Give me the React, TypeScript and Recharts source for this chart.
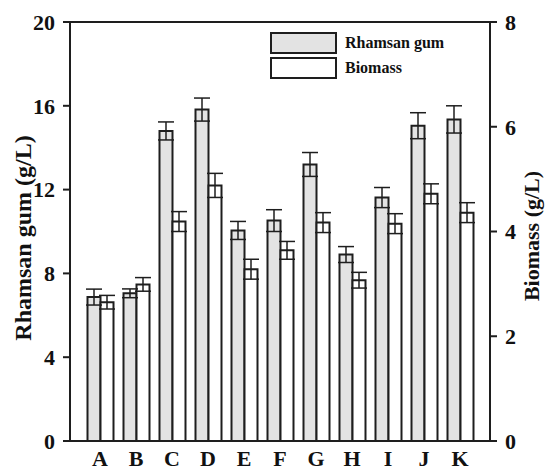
import React from "react";
import { BarChart, Bar, XAxis, YAxis, ErrorBar, ReferenceLine } from "recharts";

const categories = ["A", "B", "C", "D", "E", "F", "G", "H", "I", "J", "K"];
const gumValues = [6.87, 7.05, 14.8, 15.82, 10.05, 10.52, 13.2, 8.9, 11.62, 15.05, 15.35];
const gumErrors = [0.38, 0.21, 0.43, 0.55, 0.43, 0.52, 0.57, 0.38, 0.48, 0.62, 0.65];
const biomassValues = [2.65, 2.99, 4.19, 4.88, 3.28, 3.64, 4.17, 3.07, 4.15, 4.72, 4.36];
const biomassErrors = [0.13, 0.13, 0.19, 0.23, 0.19, 0.17, 0.19, 0.15, 0.19, 0.19, 0.19];
const leftTicks = [0, 4, 8, 12, 16, 20];
const rightTicks = [0, 2, 4, 6, 8];

const data = categories.map((c, i) => ({
  name: c,
  gum: gumValues[i],
  gumErr: gumErrors[i],
  biomass: biomassValues[i],
  biomassErr: biomassErrors[i],
}));

const FONT = "'Liberation Serif', 'Times New Roman', serif";
const INK = "#1e1e1e";
const GUM_FILL = "#e3e3e3";

const tickStyle = { fill: "#111", fontSize: 22, fontWeight: 700, fontFamily: FONT };

const LegendBox = () => (
  <div
    style={{
      position: "absolute",
      left: 270,
      top: 31,
      fontFamily: FONT,
      fontWeight: 700,
      fontSize: 16,
      color: "#111",
      pointerEvents: "none",
    }}
  >
    {[
      { label: "Rhamsan gum", fill: GUM_FILL },
      { label: "Biomass", fill: "#fff" },
    ].map((it, i) => (
      <div key={i} style={{ display: "flex", alignItems: "center", height: 24, marginBottom: 1 }}>
        <div
          style={{
            width: 63,
            height: 18,
            background: it.fill,
            border: `2px solid ${INK}`,
            marginRight: 8,
            boxSizing: "content-box",
          }}
        />
        <span>{it.label}</span>
      </div>
    ))}
  </div>
);

const AxisTitle = ({ x, y, text, size }: { x: number; y: number; text: string; size: number }) => (
  <text
    x={x}
    y={y}
    transform={`rotate(-90 ${x} ${y})`}
    textAnchor="middle"
    dominantBaseline="central"
    style={{ ...tickStyle, fontSize: size }}
  >
    {text}
  </text>
);

export default function App() {
  return (
    <div style={{ position: "absolute", left: 0, top: 0, width: 545, height: 470, background: "#fff" }}>
      <BarChart
        width={545}
        height={470}
        data={data}
        margin={{ top: 22, right: 0, bottom: 0, left: 0 }}
        barGap={0}
        barCategoryGap={5.5}
      >
        <XAxis
          dataKey="name"
          padding={{ left: 12, right: 12 }}
          height={29}
          tickLine={false}
          tickSize={0}
          tickMargin={9}
          axisLine={{ stroke: INK, strokeWidth: 2 }}
          tick={tickStyle}
          interval={0}
        />
        <YAxis
          yAxisId="left"
          orientation="left"
          width={70}
          domain={[0, 20]}
          ticks={leftTicks}
          tickSize={7}
          tickMargin={8}
          axisLine={{ stroke: INK, strokeWidth: 2 }}
          tickLine={{ stroke: INK, strokeWidth: 2 }}
          tick={tickStyle}
          label={{ content: () => <AxisTitle x={23} y={238} size={24} text="Rhamsan gum (g/L)" /> }}
        />
        <YAxis
          yAxisId="right"
          orientation="right"
          width={55}
          domain={[0, 8]}
          ticks={rightTicks}
          tickSize={7}
          tickMargin={8}
          axisLine={{ stroke: INK, strokeWidth: 2 }}
          tickLine={{ stroke: INK, strokeWidth: 2 }}
          tick={tickStyle}
          label={{ content: () => <AxisTitle x={531} y={236} size={22} text="Biomass (g/L)" /> }}
        />
        <ReferenceLine yAxisId="left" y={20} stroke={INK} strokeWidth={2} />
        <Bar
          yAxisId="left"
          dataKey="gum"
          fill={GUM_FILL}
          stroke={INK}
          strokeWidth={2}
          isAnimationActive={false}
        >
          <ErrorBar dataKey="gumErr" direction="y" width={8} stroke={INK} strokeWidth={1.5} />
        </Bar>
        <Bar
          yAxisId="right"
          dataKey="biomass"
          fill="#ffffff"
          stroke={INK}
          strokeWidth={2}
          isAnimationActive={false}
        >
          <ErrorBar dataKey="biomassErr" direction="y" width={8} stroke={INK} strokeWidth={1.5} />
        </Bar>
      </BarChart>
      <LegendBox />
    </div>
  );
}
